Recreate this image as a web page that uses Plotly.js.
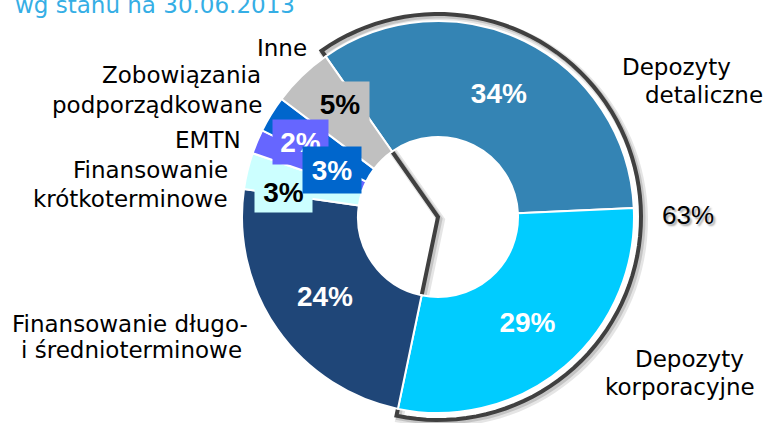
<!DOCTYPE html>
<html><head><meta charset="utf-8">
<script src="https://cdn.plot.ly/plotly-3.0.1.min.js"></script>
<style>html,body{margin:0;padding:0;background:#fff}#chart{width:768px;height:423px}</style>
</head><body><div id="chart"></div>
<script>
// ---- data ----
const categories = [
  'Depozyty<br>detaliczne',
  'Depozyty<br>korporacyjne',
  'Finansowanie długo-<br>i średnioterminowe',
  'Finansowanie<br>krótkoterminowe',
  'EMTN',
  'Zobowiązania<br>podporządkowane',
  'Inne'
];
const shares = [34, 29, 24, 3, 2, 3, 5];
const sliceColors = ['#3484B4', '#00CCFF', '#1F4678', '#CCFFFF', '#6666FF', '#0066CC', '#C0C0C0'];
const valueTextColors = ['#FFFFFF', '#FFFFFF', '#FFFFFF', '#000000', '#FFFFFF', '#FFFFFF', '#000000'];
const titleText = 'wg stanu na 30.06.2013';

// ---- layout geometry (pixels) ----
const W = 768, H = 423;
const CX = 438, CY = 217, R = 196, HOLE_R = 80, OUT_R = 203;
const ROT = -35;
const px = x => x / W, py = y => 1 - y / H;
const total = shares.reduce((a, b) => a + b, 0);

// which slices get boxed labels (small ones) and where
const boxed = {
  6: {cx: 340, cy: 104, w: 58, h: 44},
  3: {cx: 283, cy: 192, w: 57, h: 40},
  4: {cx: 300, cy: 142, w: 55, h: 44},
  5: {cx: 332, cy: 170, w: 58, h: 46}
};
const boxOrder = [6, 3, 4, 5];

// outside category label lines: [x, y(center), xanchor]
const labelPlacement = {
  0: [[620, 67, 'left'], [643, 95, 'left']],
  1: [[689, 359, 'center'], [680, 387, 'center']],
  2: [[130, 324, 'center'], [131, 350, 'center']],
  3: [[230, 170, 'right'], [230, 199, 'right']],
  4: [[243, 140, 'right']],
  5: [[263, 75, 'right'], [264, 105, 'right']],
  6: [[309, 48, 'right']]
};

const VALUE_FONT = 'Liberation Sans';
const annotations = [];
// title (cut at top, as in the original)
annotations.push({text: titleText, xref: 'paper', yref: 'paper', x: px(13), y: py(5),
  xanchor: 'left', yanchor: 'middle', showarrow: false,
  font: {family: 'DejaVu Sans', size: 23, color: '#35AEE5'}});

// category labels
categories.forEach((c, i) => {
  const lines = c.split('<br>');
  lines.forEach((ln, j) => {
    const p = labelPlacement[i][j];
    annotations.push({text: ln, xref: 'paper', yref: 'paper', x: px(p[0]), y: py(p[1]),
      xanchor: p[2], yanchor: 'middle', showarrow: false,
      font: {family: 'DejaVu Sans', size: 23, color: '#000000'}});
  });
});

// boxed small value labels
boxOrder.forEach(i => {
  const b = boxed[i];
  annotations.push({text: shares[i] + '%', xref: 'paper', yref: 'paper', x: px(b.cx), y: py(b.cy),
    xanchor: 'center', yanchor: 'middle', showarrow: false, width: b.w, height: b.h,
    bgcolor: sliceColors[i], borderpad: 0,
    font: {family: VALUE_FONT, size: 28, weight: 'bold', color: valueTextColors[i]}});
});

// group total label (with soft shadow)
const groupShare = (shares[0] + shares[1]) + '%';
annotations.push({text: groupShare, xref: 'paper', yref: 'paper', x: px(688), y: py(215),
  xanchor: 'center', yanchor: 'middle', showarrow: false,
  font: {family: 'Liberation Sans', size: 26, color: '#000000',
         shadow: '2px 2px 2px rgba(0,0,0,0.35)'}});

// outline around the first two slices (deposits)
function pt(deg, r, dx, dy) {
  const a = deg * Math.PI / 180;
  return [CX + r * Math.sin(a) + dx, CY - r * Math.cos(a) + dy];
}
function sectorPath(dx, dy) {
  const a0 = ROT, a1 = ROT + 360 * (shares[0] + shares[1]) / total;
  const pts = [[CX + dx, CY + dy]];
  const n = 80;
  for (let k = 0; k <= n; k++) pts.push(pt(a0 + (a1 - a0) * k / n, OUT_R, dx, dy));
  return 'M ' + pts.map(p => px(p[0]).toFixed(5) + ',' + py(p[1]).toFixed(5)).join(' L ') + ' Z';
}
const shapes = [
  {type: 'path', xref: 'paper', yref: 'paper', layer: 'below', path: sectorPath(3, 3),
   line: {color: 'rgba(0,0,0,0.10)', width: 8}},
  {type: 'path', xref: 'paper', yref: 'paper', layer: 'below', path: sectorPath(2, 2),
   line: {color: 'rgba(0,0,0,0.14)', width: 5}},
  {type: 'path', xref: 'paper', yref: 'paper', layer: 'below', path: sectorPath(0, 0),
   line: {color: '#404040', width: 4}}
];

const texttemplate = shares.map((v, i) => boxed[i] ? '' : '%{value}%');

const trace = {
  type: 'pie',
  labels: categories,
  values: shares,
  sort: false,
  direction: 'clockwise',
  rotation: ROT,
  hole: HOLE_R / R,
  marker: {colors: sliceColors, line: {color: '#FFFFFF', width: 2}},
  texttemplate: texttemplate,
  textposition: 'inside',
  insidetextorientation: 'horizontal',
  textfont: {family: VALUE_FONT, size: 28, weight: 'bold', color: valueTextColors},
  hoverinfo: 'none',
  showlegend: false,
  domain: {x: [px(CX - R), px(CX + R)], y: [py(CY + R), py(CY - R)]}
};

const layout = {
  width: W, height: H,
  margin: {l: 0, r: 0, t: 0, b: 0},
  paper_bgcolor: '#FFFFFF',
  showlegend: false,
  annotations: annotations,
  shapes: shapes
};

Plotly.newPlot('chart', [trace], layout, {displayModeBar: false, staticPlot: true});
</script>
</body></html>
